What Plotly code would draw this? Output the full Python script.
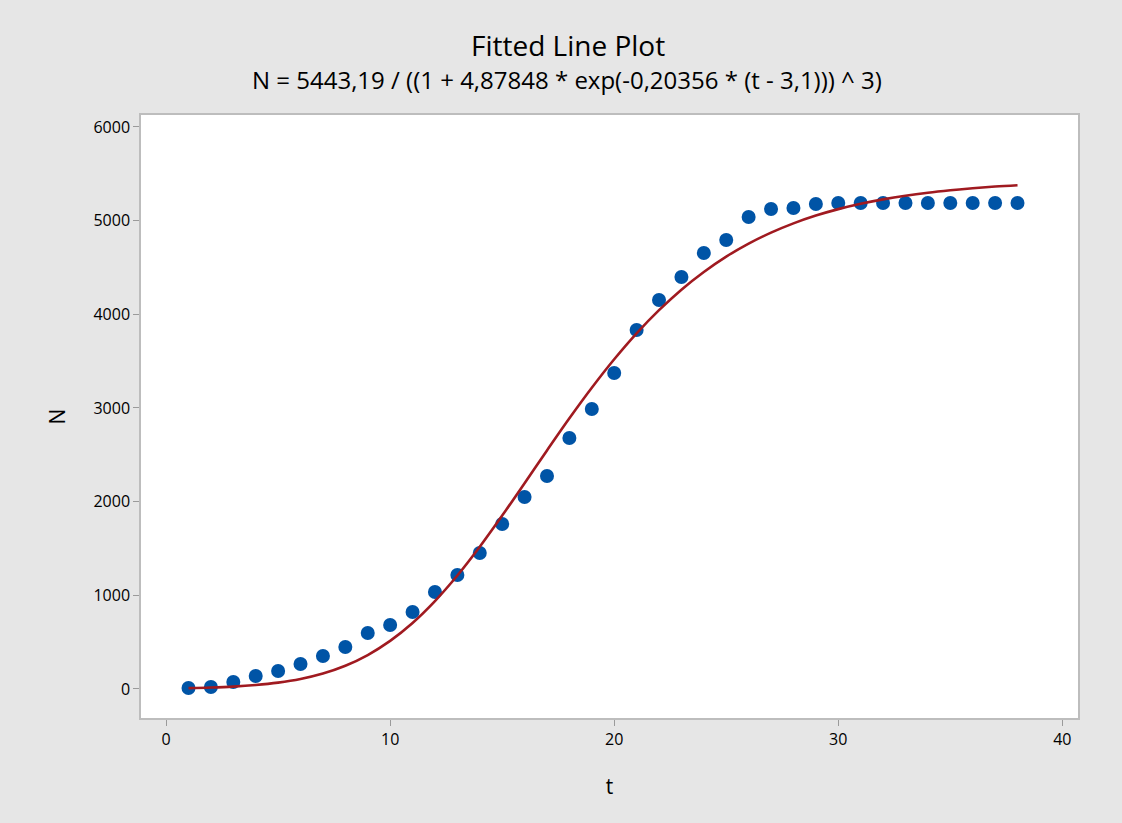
import plotly.graph_objects as go

# Observed data (t, N)
t_obs = list(range(1, 39))
n_obs = [11, 21, 75, 139, 192, 267, 352, 448, 598, 683,
         822, 1036, 1217, 1452, 1761, 2050, 2274, 2680, 2989, 3374,
         3833, 4153, 4398, 4655, 4793, 5039, 5124, 5135, 5178, 5188,
         5188, 5188, 5188, 5188, 5188, 5188, 5188, 5188]

# Fitted curve values read at each t
t_fit = list(range(1, 39))
n_fit = [9, 15, 25, 42, 68, 107, 165, 248, 362, 513,
         704, 938, 1211, 1518, 1851, 2197, 2547, 2890, 3216, 3520,
         3797, 4044, 4263, 4452, 4616, 4755, 4872, 4971, 5054, 5123,
         5180, 5227, 5266, 5298, 5324, 5346, 5364, 5378]

x_ticks = [0, 10, 20, 30, 40]
y_ticks = [0, 1000, 2000, 3000, 4000, 5000, 6000]

title_main = "Fitted Line Plot"
title_sub = "N = 5443,19 / ((1 + 4,87848 * exp(-0,20356 * (t - 3,1))) ^ 3)"

FONT = "Open Sans"

fig = go.Figure()
fig.add_trace(go.Scatter(
    x=t_obs, y=n_obs, mode="markers",
    marker=dict(color="#0054A6", size=14, symbol="circle"),
    showlegend=False, hoverinfo="x+y"))
fig.add_trace(go.Scatter(
    x=t_fit, y=n_fit, mode="lines", line=dict(color="#A01A20", width=2.6, shape="spline"),
    showlegend=False, hoverinfo="x+y"))

axis_common = dict(
    showgrid=False, zeroline=False, showline=True, mirror=True,
    linecolor="#BDBDBD", linewidth=1.5,
    ticks="outside", ticklen=6, tickcolor="#9A9A9A", tickwidth=1,
    tickfont=dict(family=FONT, size=16, color="#000000"),
)

fig.update_layout(
    width=1122, height=823,
    paper_bgcolor="#E6E6E6", plot_bgcolor="#FFFFFF",
    margin=dict(l=141, r=44, t=115, b=105),
    font=dict(family=FONT, color="#000000"),
    xaxis=dict(range=[-1.12, 40.7], tickvals=x_ticks,
               title=dict(text="t", font=dict(family=FONT, size=21, color="#000000"), standoff=30),
               **axis_common),
    yaxis=dict(range=[-310, 6128], tickvals=y_ticks,
               title=dict(text="N", font=dict(family=FONT, size=21, color="#000000"), standoff=22),
               **axis_common),
    annotations=[
        dict(text=title_main, x=568, y=45, xref="paper", yref="paper", showarrow=False,
             font=dict(family=FONT, size=28, color="#000000")),
        dict(text=title_sub, x=567, y=79, xref="paper", yref="paper", showarrow=False,
             font=dict(family=FONT, size=24, color="#000000")),
    ],
)

# convert pixel positions of title annotations to paper coordinates
pw = 1122 - 141 - 44
ph = 823 - 115 - 105
for a in fig.layout.annotations:
    px, py = a.x, a.y
    a.x = (px - 141) / pw
    a.y = (823 - 105 - py) / ph
    a.xanchor = "center"
    a.yanchor = "middle"

fig.write_html("out.html")
